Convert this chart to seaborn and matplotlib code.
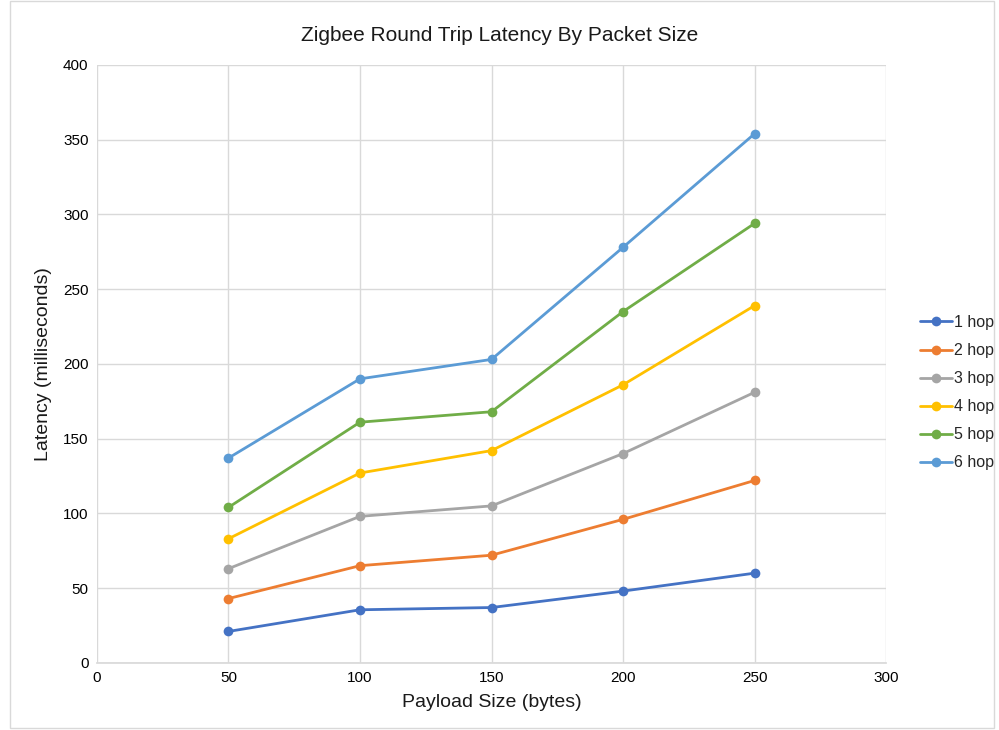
import pandas as pd
import matplotlib.pyplot as plt
import seaborn as sns

# Data
payload_sizes = [50, 100, 150, 200, 250]
hop_labels = ["1 hop", "2 hop", "3 hop", "4 hop", "5 hop", "6 hop"]
hop1 = [21, 35.5, 37, 48, 60]
hop2 = [43, 65, 72, 96, 122]
hop3 = [63, 98, 105, 140, 181]
hop4 = [83, 127, 142, 186, 239]
hop5 = [104, 161, 168, 235, 294]
hop6 = [137, 190, 203, 278, 354]
x_ticks = [0, 50, 100, 150, 200, 250, 300]
y_ticks = [0, 50, 100, 150, 200, 250, 300, 350, 400]

colors = ["#4472C4", "#ED7D31", "#A5A5A5", "#FFC000", "#70AD47", "#5B9BD5"]

sns.set_theme(style="whitegrid")
plt.rcParams['font.family'] = ['Liberation Sans', 'DejaVu Sans']

rows = []
for label, vals in zip(hop_labels, [hop1, hop2, hop3, hop4, hop5, hop6]):
    for size, v in zip(payload_sizes, vals):
        rows.append({"size": size, "latency": v, "hops": label})
df = pd.DataFrame(rows)

fig = plt.figure(figsize=(9.99, 7.3), dpi=100)
ax = fig.add_axes([0.097, 0.092, 0.79, 0.819])
sns.lineplot(data=df, x="size", y="latency", hue="hops", hue_order=hop_labels,
             palette=colors, marker="o", markersize=7, markeredgewidth=0,
             linewidth=2, ax=ax)

ax.set_xlim(0, 300)
ax.set_ylim(0, 400)
ax.set_xticks(x_ticks)
ax.set_yticks(y_ticks)
ax.tick_params(axis='both', labelsize=11, colors='#000000', length=0, pad=6)
ax.grid(True, color='#D9D9D9', linewidth=1)
for s in ["top", "right", "left"]:
    ax.spines[s].set_visible(False)
ax.spines["bottom"].set_color('#D9D9D9')

ax.set_xlabel("Payload Size (bytes)", fontsize=14, color='#1a1a1a', labelpad=6)
ax.set_ylabel("Latency (milliseconds)", fontsize=14, color='#1a1a1a', labelpad=8)
fig.suptitle("Zigbee Round Trip Latency By Packet Size", fontsize=15, color='#1a1a1a', y=0.965)

handles, labels = ax.get_legend_handles_labels()
ax.get_legend().remove()
fig.legend(handles, labels, loc='center left', bbox_to_anchor=(0.921, 0.462),
           frameon=False, fontsize=11.5, handlelength=2.0, labelspacing=0.82,
           handletextpad=0.1, borderpad=0, borderaxespad=0)

# chart frame
fig.patches.append(plt.Rectangle((0.01, 0.003), 0.985, 0.996, transform=fig.transFigure,
                                 fill=False, edgecolor='#D9D9D9', linewidth=1))

fig.savefig("out.png", dpi=100)
